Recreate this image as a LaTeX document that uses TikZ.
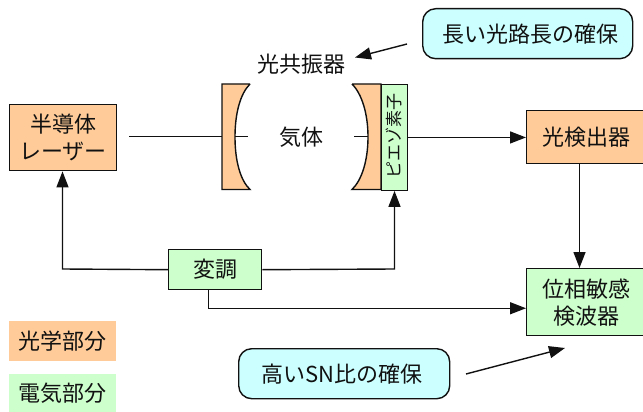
\documentclass[tikz,border=0pt]{standalone}
\usepackage{fontspec}
\setmainfont{Noto Sans CJK JP}
\usetikzlibrary{arrows.meta}
\definecolor{opt}{HTML}{FFCC99}
\definecolor{ele}{HTML}{CCFFCC}
\definecolor{cal}{HTML}{CCFFFF}
\definecolor{ink}{HTML}{111111}
\tikzset{
  x=1pt,y=-1pt,
  txt/.style={font=\fontsize{22}{27}\selectfont,text=ink,align=center,inner sep=0pt},
  boxbase/.style={draw=ink,line width=1.4pt,txt,anchor=north west},
  optbox/.style={boxbase,fill=opt},
  elebox/.style={boxbase,fill=ele},
  legendbox/.style={txt,anchor=north west},
  callout/.style={boxbase,fill=cal,rounded corners=13pt},
  conn/.style={draw=ink,line width=1.4pt},
  arr/.style={conn,-{Triangle[length=16pt,width=12pt]}},
  mirror/.style={draw=ink,line width=1.4pt,fill=opt}
}
\newcommand{\boxat}[6]{\node[#1,minimum width=#4pt,minimum height=#5pt] (#2) at #3 {#6};}
\begin{document}
\begin{tikzpicture}
\useasboundingbox (0,0) rectangle (643,412);
\fill[white] (0,0) rectangle (643,412);
% mirrors
\draw[mirror] (250,84) -- (222,84) -- (222,189.5) -- (250,189.5)
  .. controls (240,180) and (235,160) .. (235,137)
  .. controls (235,114) and (240,94) .. (250,84);
\draw[mirror] (352,84) -- (381,84) -- (381,189.5) -- (352,189.5)
  .. controls (362,180) and (368,160) .. (368,137)
  .. controls (368,114) and (362,94) .. (352,84);
\coordinate (mlo) at (222,136.75);
\coordinate (mli) at (235,136.75);
\coordinate (mri) at (368,136.75);
\coordinate (lstart) at (129,136.75);
\coordinate (lgas) at (248,136.75);
\coordinate (rgas) at (354,136.75);
% boxes
\boxat{optbox}{laser}{(9,104)}{107}{66}{半導体\\レーザー}
\boxat{optbox}{det}{(526,110)}{119}{53}{光検出器}
\boxat{elebox}{mod}{(168,249)}{93}{40}{変調}
\boxat{elebox}{psd}{(526,268)}{119}{67}{位相敏感\\検波器}
\boxat{elebox}{piezo}{(381,84)}{26}{105.5}{}
\node[txt,rotate=90,font=\fontsize{17}{20}\selectfont] (piezotext) at (394,136) {ピエゾ素子};
\node[txt] (gas) at (301,137) {気体};
\node[txt] (cav) at (301,64) {光共振器};
\node[fill=opt,minimum width=107pt,minimum height=40pt,legendbox] (lego) at (9,321) {光学部分};
\node[fill=ele,minimum width=107pt,minimum height=38pt,legendbox] (lege) at (9,374) {電気部分};
\boxat{callout}{c1}{(422,8)}{210}{50}{\hspace*{6pt}長い光路長の確保}
\boxat{callout}{c2}{(238,348)}{211}{50}{高いSN比の確保\hspace*{4pt}}
% connectors
\draw[conn] (lstart) -- (mlo);
\draw[conn] (mli) -- (lgas);
\draw[conn] (rgas) -- (mri);
\draw[arr] (piezo.east) -- (det.west |- piezo.east);
\coordinate (dp) at (579.5,163);
\draw[arr] (dp) -- (dp |- psd.north);
\coordinate (modl) at (62.5,269);
\draw[arr] (mod.west) -- (modl) -- (modl |- laser.south);
\coordinate (modr) at (394.5,269);
\draw[arr] (mod.east) -- (modr) -- (modr |- piezo.south);
\coordinate (modb) at (208.5,289);
\coordinate (modc) at (208.5,308.25);
\draw[arr] (modb) -- (modc) -- (psd.west |- modc);
\coordinate (a1s) at (407,44);
\coordinate (a1e) at (355,57.5);
\draw[arr] (a1s) -- (a1e);
\coordinate (a2s) at (466,374);
\coordinate (a2e) at (565,348);
\draw[arr] (a2s) -- (a2e);
\end{tikzpicture}
\end{document}
